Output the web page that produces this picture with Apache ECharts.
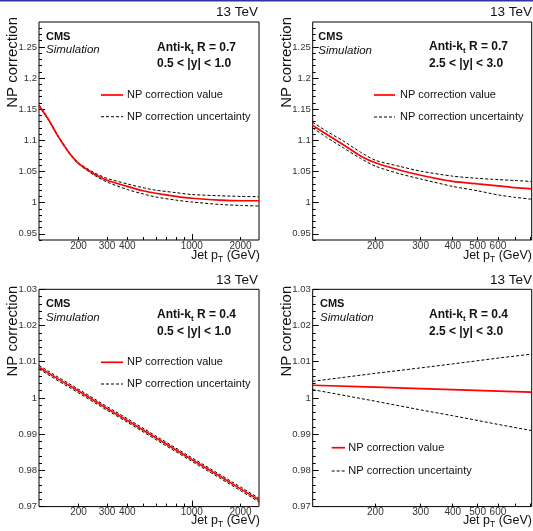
<!DOCTYPE html>
<html><head><meta charset="utf-8">
<script src="https://cdn.jsdelivr.net/npm/echarts@6/dist/echarts.min.js"></script>
<style>html,body{margin:0;padding:0;background:#fff}#c{width:533px;height:531px}</style>
</head><body><div id="c"></div>
<script>
// ---------------- data ----------------
// Panel 1: anti-kt R=0.7, 0.5<|y|<1.0
const p1Pt      = [114, 130, 150, 175, 200, 250, 300, 400, 500, 600, 800, 1000, 1500, 2000, 2600];
const p1Value   = [1.156, 1.134, 1.106, 1.080, 1.063, 1.046, 1.036, 1.026, 1.019, 1.015, 1.010, 1.007, 1.004, 1.003, 1.003];
const p1Upper   = [1.157, 1.135, 1.107, 1.081, 1.064, 1.048, 1.039, 1.030, 1.024, 1.020, 1.016, 1.013, 1.011, 1.010, 1.0095];
const p1Lower   = [1.155, 1.133, 1.105, 1.079, 1.062, 1.044, 1.033, 1.021, 1.014, 1.009, 1.004, 1.001, 0.997, 0.9955, 0.9945];
// Panel 2: anti-kt R=0.7, 2.5<|y|<3.0
const p2Pt      = [114, 130, 150, 175, 200, 250, 300, 400, 500, 600, 700, 810];
const p2Value   = [1.124, 1.109, 1.093, 1.075, 1.064, 1.052, 1.044, 1.034, 1.030, 1.027, 1.024, 1.022];
const p2Upper   = [1.129, 1.114, 1.099, 1.081, 1.068, 1.058, 1.0505, 1.0425, 1.039, 1.037, 1.0355, 1.034];
const p2Lower   = [1.120, 1.104, 1.088, 1.071, 1.0585, 1.046, 1.038, 1.026, 1.019, 1.0124, 1.0085, 1.0055];
// Panel 3: anti-kt R=0.4, 0.5<|y|<1.0
const p3Pt      = [114, 150, 200, 300, 400, 600, 1000, 1500, 2000, 2600];
const p3Value   = [1.0085, 1.0052, 1.0019, 0.9971, 0.9938, 0.9890, 0.9830, 0.9783, 0.9749, 0.9718];
const p3Upper   = [1.0090, 1.0057, 1.0024, 0.9976, 0.9943, 0.9895, 0.9835, 0.9788, 0.9754, 0.9723];
const p3Lower   = [1.0080, 1.0047, 1.0014, 0.9966, 0.9933, 0.9885, 0.9825, 0.9778, 0.9744, 0.9713];
// Panel 4: anti-kt R=0.4, 2.5<|y|<3.0
const p4Pt      = [114, 200, 300, 400, 600, 810];
const p4Value   = [1.0035, 1.0030, 1.0026, 1.0023, 1.0019, 1.0016];
const p4Upper   = [1.0046, 1.0068, 1.0083, 1.0094, 1.0110, 1.0121];
const p4Lower   = [1.0023, 0.9991, 0.9967, 0.9951, 0.9927, 0.9910];

// tick labels
const xLabelsWide   = [200, 300, 400, 1000, 2000];
const xTicksWide    = [200, 300, 400, 500, 600, 700, 800, 900, 2000];
const xMajorWide    = [1000];
const xLabelsNarrow = [200, 300, 400, 500, 600];
const xTicksNarrow  = [200, 300, 400, 500, 600, 700, 800];
const xMajorNarrow  = [];
const yLabelsR07 = [0.95, 1, 1.05, 1.1, 1.15, 1.2, 1.25];
const yMinorR07  = [0.94, 0.96, 0.97, 0.98, 0.99, 1.01, 1.02, 1.03, 1.04, 1.06, 1.07, 1.08, 1.09, 1.11, 1.12, 1.13, 1.14, 1.16, 1.17, 1.18, 1.19, 1.21, 1.22, 1.23, 1.24, 1.26, 1.27, 1.28];
const yLabelsR04 = [0.97, 0.98, 0.99, 1, 1.01, 1.02, 1.03];
const yMinorR04  = [0.972, 0.974, 0.976, 0.978, 0.982, 0.984, 0.986, 0.988, 0.992, 0.994, 0.996, 0.998, 1.002, 1.004, 1.006, 1.008, 1.012, 1.014, 1.016, 1.018, 1.022, 1.024, 1.026, 1.028];

const jetLabel = ['0.7', '0.7', '0.4', '0.4'];
const rapLabel = ['0.5 < |y| < 1.0', '2.5 < |y| < 3.0', '0.5 < |y| < 1.0', '2.5 < |y| < 3.0'];
const energyLabel = '13 TeV';
const yTitle = 'NP correction';
const legValue = 'NP correction value';
const legUnc = 'NP correction uncertainty';

// ---------------- layout ----------------
const FONT = '"Liberation Sans", Arial, Helvetica, sans-serif';
const panels = [
  {grid:{left:39, top:22, width:220, height:218}, xr:[114,2600], yr:[0.94,1.29],
   pt:p1Pt, v:p1Value, u:p1Upper, l:p1Lower, xl:xLabelsWide, xt:xTicksWide, xm:xMajorWide, yl:yLabelsR07, ym:yMinorR07,
   txt:{tev:[258,12.7], yt:[13.3,17], xt:[260,256], cms:[46,36.7], sim:[46,50], anti:[157,47.3], rap:[157,63.3],
        leg:{x1:101,x2:123,tx:127,y1:95,y2:116.7}}},
  {grid:{left:312.7, top:22, width:219, height:218}, xr:[114,812], yr:[0.94,1.29],
   pt:p2Pt, v:p2Value, u:p2Upper, l:p2Lower, xl:xLabelsNarrow, xt:xTicksNarrow, xm:xMajorNarrow, yl:yLabelsR07, ym:yMinorR07,
   txt:{tev:[532,12.7], yt:[286.7,17], xt:[532,256], cms:[318.3,37], sim:[318.3,50.5], anti:[429,47], rap:[429,64],
        leg:{x1:374,x2:395,tx:400,y1:95,y2:117}}},
  {grid:{left:39, top:289.3, width:220, height:217.3}, xr:[114,2600], yr:[0.97,1.03],
   pt:p3Pt, v:p3Value, u:p3Upper, l:p3Lower, xl:xLabelsWide, xt:xTicksWide, xm:xMajorWide, yl:yLabelsR04, ym:yMinorR04,
   txt:{tev:[258,280], yt:[13.3,285.7], xt:[260,521], cms:[46,304.3], sim:[46,317.3], anti:[157,314.3], rap:[157,331.7],
        leg:{x1:101,x2:123,tx:127,y1:362.3,y2:384}}},
  {grid:{left:312.7, top:289.3, width:219, height:217.3}, xr:[114,812], yr:[0.97,1.03],
   pt:p4Pt, v:p4Value, u:p4Upper, l:p4Lower, xl:xLabelsNarrow, xt:xTicksNarrow, xm:xMajorNarrow, yl:yLabelsR04, ym:yMinorR04,
   txt:{tev:[532,280], yt:[286.7,285.7], xt:[532,521], cms:[320,304.3], sim:[320,317.3], anti:[429,314.3], rap:[429,331.7],
        leg:{x1:331.7,x2:345,tx:348.3,y1:447.7,y2:471}}}
];

const grids = [], xAxes = [], yAxes = [], series = [], graphics = [];
const lg = Math.log10;
const noAxis = {axisLine:{show:false}, splitLine:{show:false}};

panels.forEach((p, k) => {
  grids.push(Object.assign({show:true, borderColor:'#000', borderWidth:1, backgroundColor:'transparent'}, p.grid));
  // data log axis
  xAxes.push(Object.assign({type:'log', logBase:10, gridIndex:k, position:'bottom', min:p.xr[0], max:p.xr[1],
    axisTick:{show:false}, axisLabel:{show:false}}, noAxis));
  // label + minor-tick overlay (log10 space)
  xAxes.push(Object.assign({type:'value', gridIndex:k, position:'bottom', min:lg(p.xr[0]), max:lg(p.xr[1]),
    axisTick:{show:true, inside:true, length:3, customValues:p.xt.map(lg), lineStyle:{color:'#000', width:1}},
    axisLabel:{show:true, customValues:p.xl.map(lg), margin:1, fontSize:10, fontFamily:FONT, color:'#333',
      formatter:v => String(Math.round(Math.pow(10, v)))}}, noAxis));
  // decade tick overlay
  xAxes.push(Object.assign({type:'value', gridIndex:k, position:'bottom', min:lg(p.xr[0]), max:lg(p.xr[1]),
    axisTick:{show:p.xm.length > 0, inside:true, length:6, customValues:p.xm.length ? p.xm.map(lg) : undefined, lineStyle:{color:'#000', width:1}},
    axisLabel:{show:false}}, noAxis));
  // main y axis
  yAxes.push(Object.assign({type:'value', gridIndex:k, position:'left', min:p.yr[0], max:p.yr[1],
    axisTick:{show:true, inside:true, length:6, customValues:p.yl, lineStyle:{color:'#000', width:1}},
    axisLabel:{show:true, customValues:p.yl, margin:2, fontSize:9.5, fontFamily:FONT, color:'#333',
      formatter:v => String(Math.round(v * 1000) / 1000)}}, noAxis));
  // minor y ticks
  yAxes.push(Object.assign({type:'value', gridIndex:k, position:'left', min:p.yr[0], max:p.yr[1],
    axisTick:{show:true, inside:true, length:3, customValues:p.ym, lineStyle:{color:'#000', width:1}},
    axisLabel:{show:false}}, noAxis));

  const smooth = k < 2 ? 0.25 : false;
  const mk = (vals) => p.pt.map((x, i) => [x, vals[i]]);
  const common = {type:'line', xAxisIndex:3*k, yAxisIndex:2*k, showSymbol:false, symbol:'none', smooth:smooth, animation:false, silent:true};
  series.push(Object.assign({name:legUnc, data:mk(p.u), z:2, lineStyle:{color:'#000', width:1, type:[3,2]}}, common));
  series.push(Object.assign({name:legUnc, data:mk(p.l), z:2, lineStyle:{color:'#000', width:1, type:[3,2]}}, common));
  series.push(Object.assign({name:legValue, data:mk(p.v), z:3, lineStyle:{color:'#ff0000', width:1.7}}, common));

  const t = p.txt;
  const txt = (x, y, text, font, align, extra) => Object.assign({type:'text', x:x, y:y, silent:true, z:10,
    style:{text:text, x:0, y:0, font:font, fill:'#111', textAlign:align, align:align, textVerticalAlign:'middle', verticalAlign:'middle'}}, extra || {});
  graphics.push(txt(t.tev[0], t.tev[1], energyLabel, '13.5px ' + FONT, 'right'));
  graphics.push(txt(t.yt[0], t.yt[1], yTitle, '15px ' + FONT, 'right', {rotation:Math.PI / 2}));
  graphics.push({type:'text', x:t.xt[0], y:t.xt[1], silent:true, z:10,
    style:{text:'{a|Jet p}{s|T}{a| (GeV)}', x:0, y:0, textAlign:'right', align:'right', textVerticalAlign:'middle', verticalAlign:'middle',
      rich:{a:{fontSize:12.5, fontFamily:FONT, fill:'#111', color:'#111'}, s:{fontSize:8.5, fontFamily:FONT, fill:'#111', color:'#111', padding:[8,0,0,0]}}}});
  graphics.push(txt(t.cms[0], t.cms[1], 'CMS', 'bold 11px ' + FONT, 'left'));
  graphics.push(txt(t.sim[0], t.sim[1], 'Simulation', 'italic 11.5px ' + FONT, 'left'));
  graphics.push({type:'text', x:t.anti[0], y:t.anti[1], silent:true, z:10,
    style:{text:'{a|Anti-k}{s|t}{a| R = ' + jetLabel[k] + '}', x:0, y:0, textAlign:'left', align:'left', textVerticalAlign:'middle', verticalAlign:'middle',
      rich:{a:{fontSize:12, fontWeight:'bold', fontFamily:FONT, fill:'#111', color:'#111'}, s:{fontSize:8, fontWeight:'bold', fontFamily:FONT, fill:'#111', color:'#111', padding:[8,0,0,0]}}}});
  graphics.push(txt(t.rap[0], t.rap[1], rapLabel[k], 'bold 12px ' + FONT, 'left'));
  const L = t.leg;
  graphics.push({type:'line', silent:true, z:10, shape:{x1:L.x1, y1:L.y1, x2:L.x2, y2:L.y1}, style:{stroke:'#ff0000', lineWidth:1.7}});
  graphics.push(txt(L.tx, L.y1, legValue, '11px ' + FONT, 'left'));
  graphics.push({type:'line', silent:true, z:10, shape:{x1:L.x1, y1:L.y2, x2:L.x2, y2:L.y2}, style:{stroke:'#000', lineWidth:1, lineDash:[3,2]}});
  graphics.push(txt(L.tx, L.y2, legUnc, '11px ' + FONT, 'left'));
});

// thin blue top border of the image
graphics.push({type:'rect', silent:true, z:20, shape:{x:0, y:0, width:533, height:1.5}, style:{fill:'#3333a0'}});

const chart = echarts.init(document.getElementById('c'), null, {renderer:'canvas'});
chart.setOption({
  animation:false,
  backgroundColor:'#fff',
  textStyle:{fontFamily:FONT},
  grid:grids, xAxis:xAxes, yAxis:yAxes, series:series, graphic:graphics
});
</script></body></html>
